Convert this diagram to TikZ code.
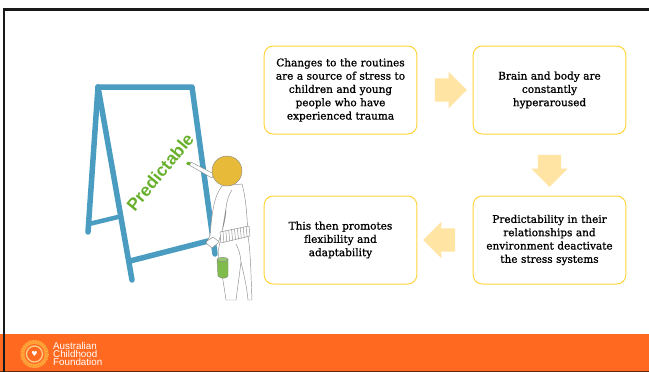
\documentclass[tikz,border=0pt]{standalone}
\usepackage{fontspec}
\setmainfont{DejaVu Serif}
\newfontfamily\stepfont[FakeBold=1]{DejaVu Serif}
\newfontfamily\labelfont{Liberation Sans}
\newfontfamily\symfont{DejaVu Sans}
\usetikzlibrary{shapes.arrows,calc}

\definecolor{Gold}{RGB}{255,212,60}
\definecolor{Pale}{RGB}{255,228,163}
\definecolor{Easel}{RGB}{74,156,192}
\definecolor{Leaf}{RGB}{104,176,44}
\definecolor{Skin}{RGB}{232,186,58}
\definecolor{Orange}{RGB}{255,106,32}
\definecolor{Sun}{RGB}{255,170,60}
\definecolor{Pencil}{RGB}{140,140,140}

\tikzset{
	stepbox/.style={draw=Gold, line width=1pt, rounded corners=9pt, fill=white,
		minimum width=150pt, minimum height=88pt, text width=146pt, align=center,
		font=\stepfont\fontsize{10.5}{13.3}\selectfont},
	flow/.style={shape=single arrow, fill=Pale, draw=none, minimum height=32pt,
		inner xsep=0pt, inner ysep=11.5pt, single arrow head extend=6.5pt},
	leg/.style={draw=Easel, line width=5.5pt, line cap=round, line join=round},
	sketch/.style={draw=Pencil, line width=0.45pt, line cap=round, line join=round},
}

\begin{document}
\begin{tikzpicture}[x=1pt, y=-1pt]
	\useasboundingbox (0,0) rectangle (649,372);
	
	% Footer band
	\fill[Orange] (0,333.5) rectangle (649,371);
	\fill[black!60!Orange] (0,371) rectangle (649,372);
	
	% Frame
	\draw[black!90, line width=2.2pt] (4,372) -- (4,9.5) -- (649,9.5);
	
	% Steps
	\node[stepbox] (routine) at (340.5,90) {Changes to the routines\\are a source of stress to\\children and young\\people who have\\experienced trauma};
	\node[stepbox] (arousal) at (549.5,90) {Brain and body are\\constantly\\hyperaroused};
	\node[stepbox] (calm) at (549.5,240) {Predictability in their\\relationships and\\environment deactivate\\the stress systems};
	\node[stepbox] (flex) at (340.5,240) {This then promotes\\flexibility and\\adaptability};
	
	% Flow
	\node[flow] (go1) at ($(routine.east)!0.5!(arousal.west)$) {};
	\node[flow, rotate=-90] (go2) at ($(arousal.south)!0.5!(calm.north)$) {};
	\node[flow, rotate=180] (go3) at ($(calm.west)!0.5!(flex.east)$) {};
	
	% Easel
	\draw[leg] (98,87) -- (88,232);
	\draw[leg, line width=4.5pt] (89,224) -- (118,217);
	\draw[leg] (98,87) -- (192,87) -- (215,254);
	\draw[leg] (98,87) -- (132,280);
	\draw[leg] (130,261) -- (212,240);
	
	\node[font=\labelfont\bfseries\fontsize{17.5}{18}\selectfont, text=Leaf, rotate=50.4, inner sep=0pt] (word) at (160,172) {Predictable};
	
	% Child
	\draw[sketch, fill=white] (212,178) -- (189,165) -- (191,162) -- (214,174) -- cycle;
	\fill[Leaf] (188.5,163.5) ellipse (2.2pt and 1.6pt);
	\draw[sketch, fill=white] (222,186) .. controls (214,196) and (212,212) .. (210,236)
		-- (206,243) -- (212,248) -- (218,243)
		.. controls (222,232) and (226,220) .. (226,208)
		-- (222,232) -- (218,252) .. controls (221,270) and (224,285) .. (226,300)
		-- (236,300) .. controls (238,285) and (240,270) .. (241,262)
		.. controls (244,275) and (247,288) .. (248,300)
		-- (252,300) .. controls (251,280) and (251,255) .. (248,236)
		.. controls (247,215) and (246,198) .. (242,184) -- cycle;
	\draw[sketch] (226,208) .. controls (227,200) and (229,194) .. (232,190);
	\draw[sketch, fill=white] (220,232) -- (249,226) -- (250,236) -- (221,243) -- cycle;
	\foreach \s in {0.1,0.2,...,0.9}
		\draw[sketch] ($(220,232)!\s!(249,226)$) -- ($(221,243)!\s!(250,236)$);
	\draw[sketch] (207,241) -- (213,237) -- (218,241);
	\draw[sketch] (241,262) .. controls (240,252) and (238,248) .. (236,244);
	\draw[sketch, fill=Leaf!85!white] (217,260) -- (218,276) .. controls (221,279) and (226,279) .. (228,276) -- (228,259) -- cycle;
	\draw[sketch, fill=Leaf!70!white] (222.5,259.5) ellipse (5.5pt and 2.2pt);
	\draw[sketch, fill=Skin] (227,171) circle (15pt);
	
	% Logo
	\fill[Sun!70!Orange] (34.5,354) circle (14pt);
	\foreach \a in {0,12,...,348}
		\draw[Sun, line width=1pt] (34.5,354) -- ++(\a:14);
	\fill[Orange] (34.5,354) circle (10pt);
	\draw[Sun!60!white, line width=1.3pt] (34.5,354) circle (8pt);
	\node[text=white, font=\symfont\fontsize{7}{7}\selectfont, inner sep=0pt] (heart) at (34.5,354) {♥};
	\node[text=white, font=\labelfont\fontsize{9.8}{8.3}\selectfont, align=left, anchor=west, inner sep=0pt] (brand) at (53,354) {Australian\\Childhood\\Foundation};
	
\end{tikzpicture}
\end{document}
